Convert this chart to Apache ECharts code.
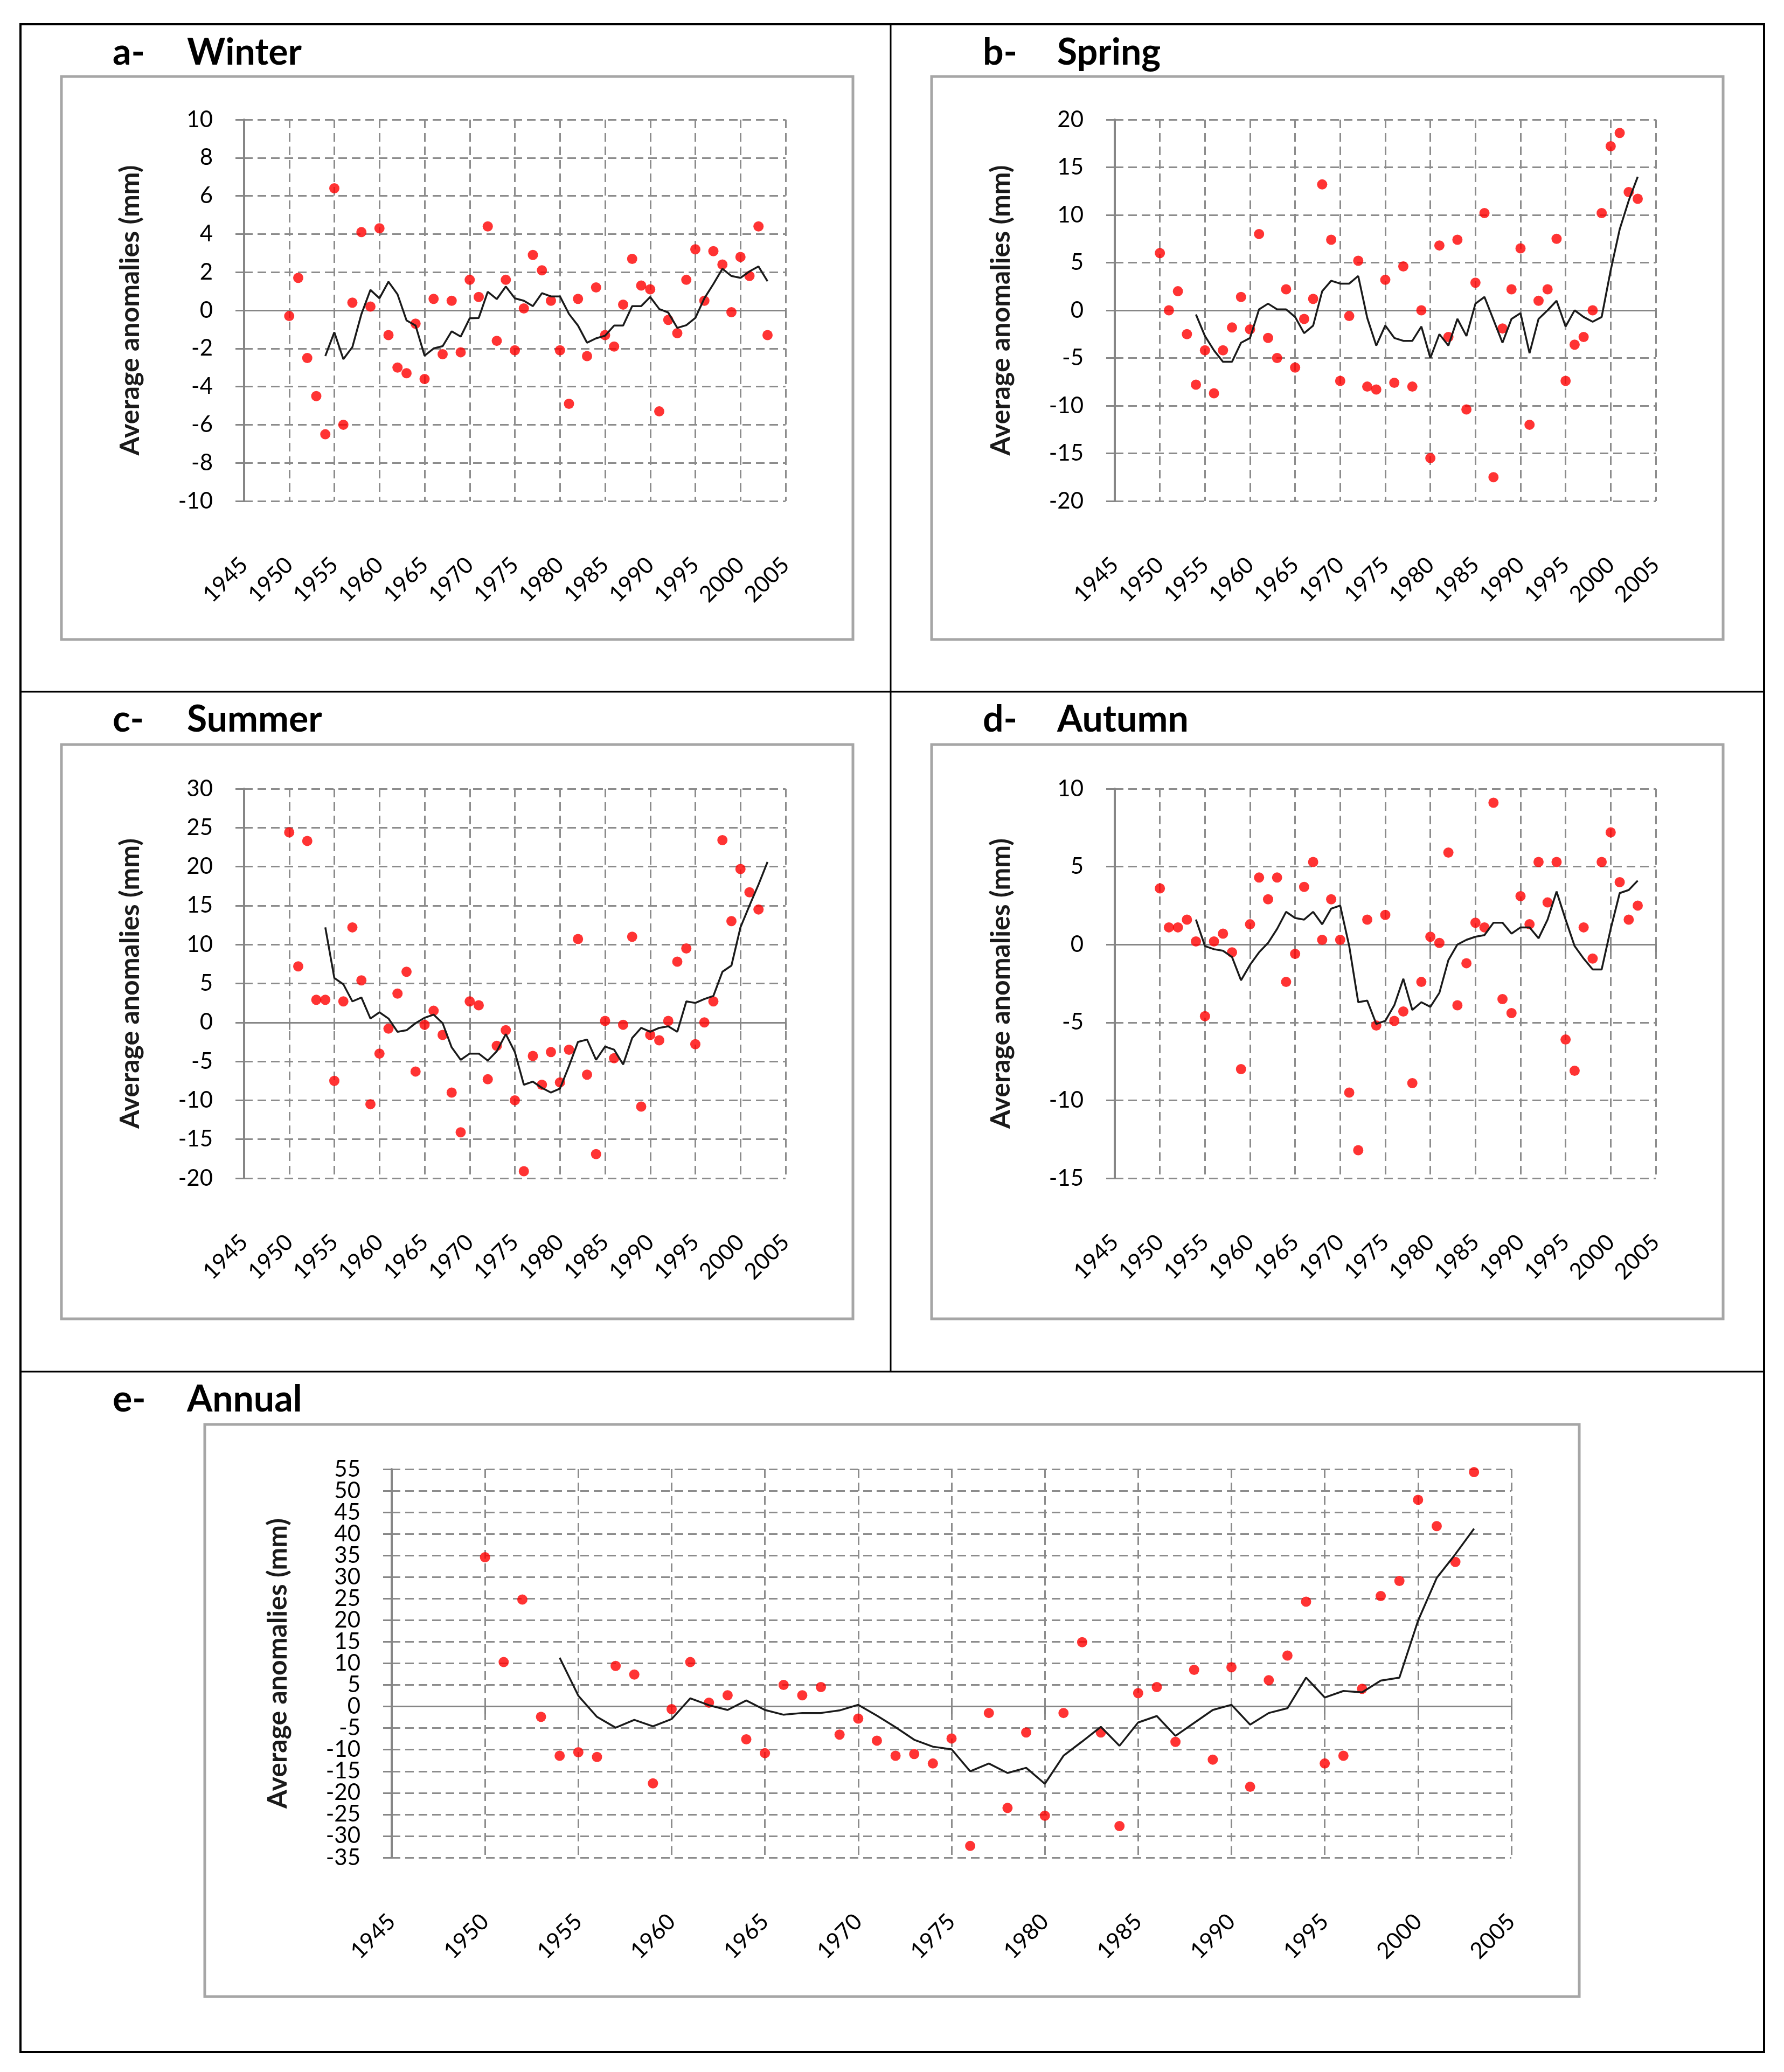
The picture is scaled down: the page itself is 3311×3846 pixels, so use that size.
<!DOCTYPE html>
<html>
<head>
<meta charset="utf-8">
<script src="https://cdn.jsdelivr.net/npm/echarts@6/dist/echarts.min.js"></script>
<style>
html,body{margin:0;padding:0;background:#fff;}
#main{width:3311px;height:3846px;}
</style>
</head>
<body>
<div id="main"></div>
<script>
// ---- DATA ----
const years = [1950,1951,1952,1953,1954,1955,1956,1957,1958,1959,
  1960,1961,1962,1963,1964,1965,1966,1967,1968,1969,
  1970,1971,1972,1973,1974,1975,1976,1977,1978,1979,
  1980,1981,1982,1983,1984,1985,1986,1987,1988,1989,
  1990,1991,1992,1993,1994,1995,1996,1997,1998,1999,
  2000,2001,2002,2003];
const xTicks = [1945,1950,1955,1960,1965,1970,1975,1980,1985,1990,1995,2000,2005];
const annualTickLabels = ['-35','-30','-25','-20','-15','-10','-5','0','5','10','15','20','25','30','35','40','45','50','55'];

const winter = [-0.3,1.7,-2.5,-4.5,-6.5,6.4,-6.0,0.4,4.1,0.2,
  4.3,-1.3,-3.0,-3.3,-0.7,-3.6,0.6,-2.3,0.5,-2.2,
  1.6,0.7,4.4,-1.6,1.6,-2.1,0.1,2.9,2.1,0.5,
  -2.1,-4.9,0.6,-2.4,1.2,-1.3,-1.9,0.3,2.7,1.3,
  1.1,-5.3,-0.5,-1.2,1.6,3.2,0.5,3.1,2.4,-0.1,
  2.8,1.8,4.4,-1.3];
const winterMA = [-2.4,-1.15,-2.56,-1.93,-0.2,1.07,
  0.63,1.5,0.84,-0.53,-0.8,-2.38,-2.0,-1.88,-1.1,-1.38,
  -0.42,-0.4,0.97,0.59,1.25,0.63,0.5,0.22,0.9,0.73,
  0.73,-0.19,-0.8,-1.7,-1.47,-1.33,-0.8,-0.8,0.22,0.22,
  0.7,0.07,-0.12,-0.92,-0.78,-0.4,0.63,1.38,2.18,1.8,
  1.7,2.04,2.3,1.52];

const spring = [6.0,0.0,2.0,-2.5,-7.8,-4.2,-8.7,-4.2,-1.8,1.4,
  -2.0,8.0,-2.9,-5.0,2.2,-6.0,-0.9,1.2,13.2,7.4,
  -7.4,-0.6,5.2,-8.0,-8.3,3.2,-7.6,4.6,-8.0,0.0,
  -15.5,6.8,-2.8,7.4,-10.4,2.9,10.2,-17.5,-1.9,2.2,
  6.5,-12.0,1.0,2.2,7.5,-7.4,-3.6,-2.8,0.0,10.2,
  17.2,18.6,12.4,11.7];
const springMA = [-0.44,-2.7,-4.2,-5.4,-5.4,-3.4,
  -2.9,0.1,0.7,0.1,0.1,-0.7,-2.4,-1.6,2.0,3.1,
  2.8,2.8,3.6,-0.8,-3.7,-1.6,-2.9,-3.2,-3.2,-1.7,
  -5.0,-2.5,-3.7,-0.9,-2.7,0.7,1.4,-1.0,-3.4,-0.9,
  -0.3,-4.5,-0.9,0.0,1.0,-1.7,0.0,-0.7,-1.2,-0.7,
  4.2,8.5,11.5,14.0];

const summer = [24.4,7.2,23.3,2.9,2.9,-7.5,2.7,12.2,5.4,-10.5,
  -4.0,-0.8,3.7,6.5,-6.3,-0.3,1.5,-1.6,-9.0,-14.1,
  2.7,2.2,-7.3,-3.0,-1.0,-10.0,-19.1,-4.3,-8.0,-3.8,
  -7.7,-3.5,10.7,-6.7,-16.9,0.2,-4.6,-0.3,11.0,-10.8,
  -1.6,-2.3,0.2,7.8,9.5,-2.8,0.0,2.7,23.4,13.0,
  19.7,16.7,14.5,null];
const summerMA = [12.2,5.7,4.9,2.7,3.2,0.5,
  1.3,0.5,-1.2,-1.0,-0.1,0.6,1.0,-0.1,-3.2,-4.8,
  -4.0,-4.0,-4.9,-3.7,-1.5,-3.8,-8.0,-7.6,-8.4,-9.0,
  -8.5,-5.6,-2.5,-2.2,-4.8,-3.1,-3.5,-5.4,-2.0,-0.7,
  -1.2,-0.7,-0.5,-1.2,2.7,2.5,3.0,3.4,6.5,7.3,
  12.2,15.0,17.7,20.6];

const autumn = [3.6,1.1,1.1,1.6,0.2,-4.6,0.2,0.7,-0.5,-8.0,
  1.3,4.3,2.9,4.3,-2.4,-0.6,3.7,5.3,0.3,2.9,
  0.3,-9.5,-13.2,1.6,-5.2,1.9,-4.9,-4.3,-8.9,-2.4,
  0.5,0.1,5.9,-3.9,-1.2,1.4,1.1,9.1,-3.5,-4.4,
  3.1,1.3,5.3,2.7,5.3,-6.1,-8.1,1.1,-0.9,5.3,
  7.2,4.0,1.6,2.5];
const autumnMA = [1.6,-0.1,-0.3,-0.4,-0.8,-2.3,
  -1.3,-0.5,0.1,1.0,2.1,1.7,1.6,2.1,1.3,2.3,
  2.5,-0.1,-3.7,-3.6,-5.1,-4.9,-3.9,-2.2,-4.2,-3.7,
  -4.0,-3.1,-1.0,0.0,0.3,0.5,0.6,1.4,1.4,0.7,
  1.1,1.1,0.4,1.6,3.4,1.6,-0.1,-0.9,-1.6,-1.6,
  1.0,3.3,3.5,4.1];

const annual = [34.6,10.3,24.8,-2.4,-11.4,-10.6,-11.7,9.4,7.4,-17.8,
  -0.6,10.3,0.9,2.6,-7.6,-10.8,5.0,2.6,4.5,-6.5,
  -2.8,-7.9,-11.4,-11.0,-13.2,-7.4,-32.3,-1.5,-23.5,-6.0,
  -25.3,-1.5,14.9,-6.0,-27.7,3.1,4.5,-8.2,8.5,-12.3,
  9.1,-18.6,6.1,11.8,24.3,-13.2,-11.4,4.1,25.6,29.1,
  47.9,41.8,33.5,54.3];
const annualMA = [11.3,2.5,-2.4,-4.9,-3.1,-4.6,
  -2.9,1.9,0.3,-0.8,1.4,-0.8,-1.9,-1.5,-1.5,-0.9,
  0.4,-2.1,-4.8,-7.7,-9.3,-9.9,-15.0,-13.2,-15.4,-14.2,
  -17.9,-11.4,-8.1,-4.7,-9.1,-3.7,-2.2,-6.8,-3.8,-0.8,
  0.4,-4.2,-1.5,-0.4,6.7,2.1,3.6,3.3,6.0,6.7,
  19.9,29.8,35.3,41.2];

const panelLetters = ['a-','b-','c-','d-','e-'];
const panelNames = ['Winter','Spring','Summer','Autumn','Annual'];
const yRanges = [[-10,10,2],[-20,20,5],[-20,30,5],[-15,10,5],[-35,55,5]];
const yAxisTitle = 'Average anomalies (mm)';

// ---- LAYOUT ----
const FONT = 'Lato';
const grids = [
  {left:453, top:222, width:1005, height:708},
  {left:2069, top:222, width:1004, height:708},
  {left:453, top:1464, width:1005, height:723},
  {left:2069, top:1464, width:1004, height:723},
  {left:727, top:2727, width:2078, height:721}
];
const boxes = [
  [114,142,1469,1045],[1729,142,1469,1045],
  [114,1382,1469,1066],[1729,1382,1469,1066],
  [380,2644,2551,1062]
];
const titlePos = [[209,98],[1824,98],[209,1336],[1824,1336],[209,2598]];
const namePos = [[347,98],[1962,98],[347,1336],[1962,1336],[347,2598]];

const valsList = [winter, spring, summer, autumn, annual];
const maList = [winterMA, springMA, summerMA, autumnMA, annualMA];

const xAxes = [], yAxes = [], series = [];
const gridLine = {type:[16,9], color:'#8c8c8c', width:3};
const labelStyle = {fontSize:42, fontFamily:FONT, color:'#000'};
grids.forEach((g,i)=>{
  xAxes.push({
    gridIndex:i, type:'value', min:xTicks[0], max:xTicks[xTicks.length-1], interval:5,
    position:'bottom',
    axisLine:{show:false, onZero:false}, axisTick:{show:false},
    axisLabel:Object.assign({rotate:45, margin:112, showMinLabel:true, showMaxLabel:true,
      formatter:v=>String(v)}, labelStyle),
    splitLine:{show:true, lineStyle:gridLine}
  });
  xAxes.push({
    gridIndex:i, type:'value', min:xTicks[0], max:xTicks[xTicks.length-1], interval:5,
    position:'bottom',
    axisLine:{show:true, onZero:true, lineStyle:{color:'#868686', width:3}},
    axisTick:{show:true, length:14, lineStyle:{color:'#868686', width:3}},
    axisLabel:{show:false}, splitLine:{show:false}
  });
  const r = yRanges[i];
  const isAnnual = (i === 4);
  yAxes.push({
    gridIndex:i, type:'value', min:r[0], max:r[1], interval:r[2],
    axisLine:{show:true, lineStyle:{color:'#868686', width:4}},
    axisTick:{show:true, length:16, lineStyle:{color:'#868686', width:3}},
    axisLabel:Object.assign({show:!isAnnual, margin:58, showMinLabel:true, showMaxLabel:true}, labelStyle),
    splitLine:{show:true, lineStyle:gridLine},
    name:yAxisTitle, nameLocation:'middle', nameGap:186, nameRotate:90,
    nameTextStyle:{fontSize:50, fontWeight:'bold', fontFamily:FONT, color:'#1a1a1a'}
  });
  const v = valsList[i];
  const pts = [];
  years.forEach((y,k)=>{ if (v[k] !== null) pts.push([y, v[k]]); });
  series.push({
    type:'scatter', xAxisIndex:i*2, yAxisIndex:i, data:pts,
    symbol:'circle', symbolSize:19, itemStyle:{color:'#ff0000'}, z:3, silent:true
  });
  const ma = maList[i];
  const maYears = years.slice(years.length - ma.length);
  series.push({
    type:'line', xAxisIndex:i*2, yAxisIndex:i,
    data: maYears.map((y,k)=>[y, ma[k]]),
    showSymbol:false, symbol:'none', lineStyle:{color:'#1a1a1a', width:3.5}, z:4, silent:true
  });
});
// label-only axis for the annual panel (dense ticks: every label shown)
yAxes.push({
  gridIndex:4, type:'category', data:annualTickLabels, boundaryGap:false, position:'left',
  axisLine:{show:false}, axisTick:{show:false}, splitLine:{show:false},
  axisLabel:Object.assign({interval:0, margin:58}, labelStyle)
});

const graphic = [];
boxes.forEach(b=>{
  graphic.push({type:'rect', silent:true, z:-1, shape:{x:b[0], y:b[1], width:b[2], height:b[3]},
    style:{fill:'none', stroke:'#a6a6a6', lineWidth:5}});
});
// outer frame and dividers
graphic.push({type:'rect', silent:true, shape:{x:38, y:45, width:3236, height:3764}, style:{fill:'none', stroke:'#000', lineWidth:4}});
graphic.push({type:'line', silent:true, shape:{x1:1653, y1:45, x2:1653, y2:2546}, style:{stroke:'#000', lineWidth:3}});
graphic.push({type:'line', silent:true, shape:{x1:38, y1:1284, x2:3274, y2:1284}, style:{stroke:'#000', lineWidth:3}});
graphic.push({type:'line', silent:true, shape:{x1:38, y1:2546, x2:3274, y2:2546}, style:{stroke:'#000', lineWidth:3}});
panelLetters.forEach((t,i)=>{
  graphic.push({type:'text', silent:true, style:{text:t, x:titlePos[i][0], y:titlePos[i][1],
    fontSize:68, fontWeight:'bold', fontFamily:FONT, fill:'#000', verticalAlign:'middle'}});
  graphic.push({type:'text', silent:true, style:{text:panelNames[i], x:namePos[i][0], y:namePos[i][1],
    fontSize:68, fontWeight:'bold', fontFamily:FONT, fill:'#000', verticalAlign:'middle'}});
});

const chart = echarts.init(document.getElementById('main'), null, {renderer:'canvas'});
chart.setOption({
  backgroundColor:'#ffffff',
  animation:false,
  grid: grids,
  xAxis: xAxes,
  yAxis: yAxes,
  series: series,
  graphic: graphic
});
</script>
</body>
</html>
